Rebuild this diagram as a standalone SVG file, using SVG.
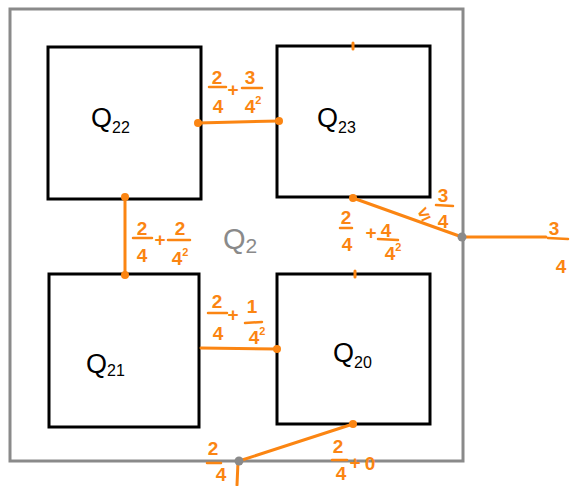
<svg xmlns="http://www.w3.org/2000/svg" width="581" height="486" viewBox="0 0 581 486">
  <style>
    .frame { fill: none; stroke: #8a8a8a; stroke-width: 3; }
    .box { fill: #ffffff; stroke: #000000; stroke-width: 3; }
    .qlabel { font-family: "Liberation Sans", "DejaVu Sans", sans-serif; fill: #000000; }
    .q { font-size: 27px; }
    .sub { font-size: 16px; }
    .conn { stroke: #fb8512; stroke-width: 3; stroke-linecap: round; fill: none; }
    .dot { fill: #fb8512; }
    .gdot { fill: #8a8a8a; }
    .num { font-family: "Liberation Sans", "DejaVu Sans", sans-serif; font-size: 19px; font-weight: bold; fill: #fb8512; text-anchor: middle; }
    .sup { font-size: 11px; }
    .bar { stroke: #fb8512; stroke-width: 2.5; stroke-linecap: round; }
  </style>

  <!-- outer region Q2 -->
  <rect class="frame" x="10" y="9" width="453" height="452"/>
  <text x="223" y="249" font-family="Liberation Sans, DejaVu Sans, sans-serif" font-size="29" fill="#8a8a8a">Q<tspan font-size="21" dy="4">2</tspan></text>

  <!-- quadrants -->
  <g id="q22">
    <rect class="box" x="48" y="47" width="153" height="152"/>
    <text class="qlabel" x="91" y="127"><tspan class="q">Q</tspan><tspan class="sub" dy="6">22</tspan></text>
  </g>
  <g id="q23">
    <rect class="box" x="277" y="46" width="153" height="151"/>
    <text class="qlabel" x="317" y="127"><tspan class="q">Q</tspan><tspan class="sub" dy="6">23</tspan></text>
  </g>
  <g id="q21">
    <rect class="box" x="49" y="274" width="150" height="153"/>
    <text class="qlabel" x="86" y="373"><tspan class="q">Q</tspan><tspan class="sub" dy="3">21</tspan></text>
  </g>
  <g id="q20">
    <rect class="box" x="277" y="274" width="153" height="150"/>
    <text class="qlabel" x="333" y="362"><tspan class="q">Q</tspan><tspan class="sub" dy="6">20</tspan></text>
  </g>

  <!-- connectors -->
  <g id="connectors">
    <line class="conn" x1="198" y1="123" x2="279" y2="121"/>
    <circle class="dot" cx="198" cy="123" r="4"/>
    <circle class="dot" cx="279" cy="121" r="4"/>

    <line class="conn" x1="125" y1="197" x2="125" y2="275"/>
    <circle class="dot" cx="125" cy="197" r="4"/>
    <circle class="dot" cx="125" cy="275" r="4"/>

    <line class="conn" x1="201" y1="348" x2="277" y2="349"/>
    <circle class="dot" cx="277" cy="349" r="4"/>

    <line class="conn" x1="353" y1="198" x2="462" y2="237"/>
    <line class="conn" x1="462" y1="237" x2="546" y2="237"/>
    <circle class="dot" cx="353" cy="198" r="4"/>
    <circle class="gdot" cx="462" cy="237" r="4.5"/>

    <line class="conn" x1="239" y1="461" x2="353" y2="424"/>
    <line class="conn" x1="238" y1="462" x2="237" y2="485"/>
    <circle class="dot" cx="353" cy="424" r="4"/>
    <circle class="gdot" cx="239" cy="461" r="4.5"/>

    <line class="conn" x1="353" y1="43" x2="353" y2="49"/>
    <line class="conn" x1="355" y1="271" x2="355" y2="277"/>
  </g>

  <!-- edge weights -->
  <g id="labels">
    <!-- 2/4 + 3/4^2 -->
    <text class="num" x="217" y="84">2</text>
    <line class="bar" x1="209" y1="87" x2="226" y2="87"/>
    <text class="num" x="218" y="113">4</text>
    <text class="num" x="233" y="96">+</text>
    <text class="num" x="250" y="84">3</text>
    <line class="bar" x1="242" y1="88" x2="262" y2="88"/>
    <text class="num" x="253" y="113">4<tspan class="sup" dy="-9">2</tspan></text>

    <!-- 2/4 + 2/4^2 -->
    <text class="num" x="142" y="235">2</text>
    <line class="bar" x1="133" y1="238" x2="152" y2="238"/>
    <text class="num" x="142" y="262">4</text>
    <text class="num" x="160" y="246">+</text>
    <text class="num" x="180" y="235">2</text>
    <line class="bar" x1="168" y1="240" x2="190" y2="240"/>
    <text class="num" x="180" y="265">4<tspan class="sup" dy="-9">2</tspan></text>

    <!-- 2/4 + 1/4^2 -->
    <text class="num" x="217" y="308">2</text>
    <line class="bar" x1="208" y1="313" x2="227" y2="313"/>
    <text class="num" x="218" y="340">4</text>
    <text class="num" x="233" y="321">+</text>
    <text class="num" x="252" y="313">1</text>
    <line class="bar" x1="245" y1="323" x2="262" y2="322"/>
    <text class="num" x="257" y="344">4<tspan class="sup" dy="-9">2</tspan></text>

    <!-- 2/4 + 4/4^2 -->
    <text class="num" x="346" y="224">2</text>
    <line class="bar" x1="340" y1="228" x2="352" y2="228"/>
    <text class="num" x="347" y="251">4</text>
    <text class="num" x="371" y="239">+</text>
    <text class="num" x="386" y="237">4</text>
    <line class="bar" x1="378" y1="239" x2="398" y2="240"/>
    <text class="num" x="393" y="260">4<tspan class="sup" dy="-9">2</tspan></text>

    <!-- <= 3/4 -->
    <text class="num" x="424" y="220" transform="rotate(-25 424 214)">≤</text>
    <text class="num" x="443" y="202">3</text>
    <line class="bar" x1="436" y1="205" x2="453" y2="206"/>
    <text class="num" x="443" y="228">4</text>

    <!-- 3/4 -->
    <text class="num" x="554" y="235">3</text>
    <line class="bar" x1="548" y1="238" x2="568" y2="239"/>
    <text class="num" x="561" y="273">4</text>

    <!-- 2/4 -->
    <text class="num" x="213" y="455">2</text>
    <line class="bar" x1="207" y1="463" x2="221" y2="463"/>
    <text class="num" x="221" y="481">4</text>

    <!-- 2/4 + 0 -->
    <text class="num" x="338" y="453">2</text>
    <line class="bar" x1="332" y1="460" x2="347" y2="460"/>
    <text class="num" x="341" y="480">4</text>
    <text class="num" x="355" y="469">+</text>
    <text class="num" x="370" y="470">0</text>
  </g>
</svg>
